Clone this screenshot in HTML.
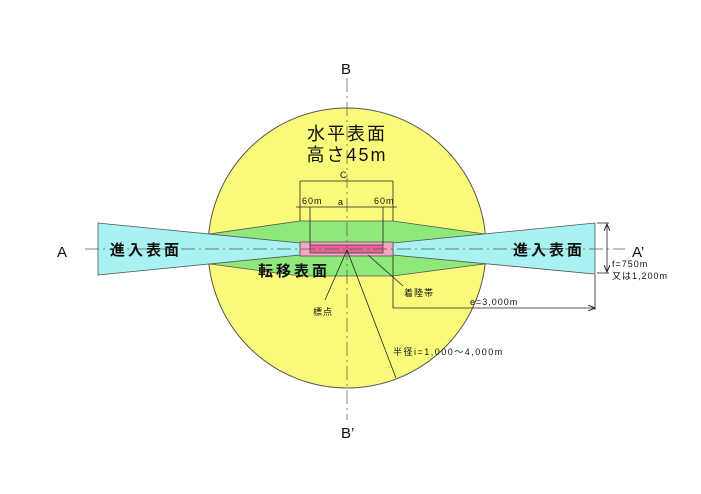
<!DOCTYPE html>
<html><head><meta charset="utf-8"><style>
html,body{margin:0;padding:0;background:#fff;}
svg{display:block;}
text{font-family:"Liberation Sans","Noto Sans CJK JP",sans-serif;fill:#111;}
</style></head><body>
<svg width="701" height="494" viewBox="0 0 701 494" xmlns="http://www.w3.org/2000/svg">
<defs>
<marker id="ar" markerWidth="8" markerHeight="6" refX="7" refY="3" orient="auto" markerUnits="userSpaceOnUse"><path d="M0,0 L7,3 L0,6" fill="none" stroke="#222" stroke-width="1"/></marker>
</defs>
<ellipse cx="347" cy="248" rx="139" ry="140" fill="#fafa7a" stroke="#555" stroke-width="1"/>
<polygon points="195,236 300,221 393,221 499,236 499,262 393,276 300,276 195,262" fill="#8fe87a" stroke="#555" stroke-width="0.8"/>
<polygon points="98,223 300,243 300,255 98,275" fill="#a8f2f2" stroke="#555" stroke-width="0.8"/>
<polygon points="595,223 393,243 393,255 595,274" fill="#a8f2f2" stroke="#555" stroke-width="0.8"/>
<rect x="300" y="242" width="93" height="14" fill="#f4a8c0" stroke="#555" stroke-width="0.8"/>
<rect x="310" y="245" width="73" height="8" fill="#e8609a" stroke="#444" stroke-width="0.8"/>
<line x1="85" y1="249" x2="625" y2="249" stroke="#555" stroke-width="0.7" stroke-dasharray="14,4,2,4"/>
<line x1="347" y1="78" x2="347" y2="420" stroke="#555" stroke-width="0.7" stroke-dasharray="14,4,2,4"/>
<g stroke="#222" stroke-width="0.8" fill="none">
<line x1="300" y1="181" x2="393" y2="181"/>
<line x1="300" y1="181" x2="300" y2="221"/><line x1="393" y1="181" x2="393" y2="221"/>
<line x1="296" y1="207" x2="397" y2="207"/>
<line x1="310" y1="207" x2="310" y2="245"/><line x1="383" y1="207" x2="383" y2="245"/>
<line x1="393" y1="256" x2="393" y2="308"/>
<line x1="393" y1="308" x2="595" y2="308" marker-end="url(#ar)"/>
<line x1="595" y1="275" x2="595" y2="310"/>
<line x1="607" y1="236" x2="607" y2="224" marker-end="url(#ar)"/>
<line x1="607" y1="236" x2="607" y2="272" marker-end="url(#ar)"/>
<line x1="597" y1="223" x2="609" y2="223"/><line x1="597" y1="273" x2="609" y2="273"/>
<line x1="368" y1="255" x2="403" y2="286"/>
<line x1="347" y1="250" x2="325" y2="300"/>
<line x1="347" y1="250" x2="396" y2="378"/>
</g>
<text x="57" y="257" font-size="15">A</text>
<text x="632" y="257" font-size="15">A’</text>
<text x="341" y="74" font-size="15">B</text>
<text x="341" y="438" font-size="15">B’</text>
<text x="347" y="140" font-size="18" text-anchor="middle" letter-spacing="2">水平表面</text>
<text x="347" y="161" font-size="18" text-anchor="middle" letter-spacing="2">高さ45m</text>
<text x="340" y="178" font-size="9">C</text>
<text x="302" y="204" font-size="9" letter-spacing="1">60m</text>
<text x="338" y="205" font-size="9">a</text>
<text x="374" y="204" font-size="9" letter-spacing="1">60m</text>
<text x="110" y="255" font-size="15" font-weight="bold" letter-spacing="3">進入表面</text>
<text x="513" y="255" font-size="15" font-weight="bold" letter-spacing="3">進入表面</text>
<text x="258" y="276" font-size="15" font-weight="bold" letter-spacing="3">転移表面</text>
<text x="404" y="296" font-size="9" letter-spacing="1">着陸帯</text>
<text x="313" y="315" font-size="9" letter-spacing="1">標点</text>
<text x="470" y="305" font-size="9" letter-spacing="1">e=3,000m</text>
<text x="612" y="267" font-size="9" letter-spacing="1">f=750m</text>
<text x="612" y="279" font-size="9" letter-spacing="1">又は1,200m</text>
<text x="393" y="355" font-size="9" letter-spacing="1.5">半径i=1,000～4,000m</text>
</svg>
</body></html>
